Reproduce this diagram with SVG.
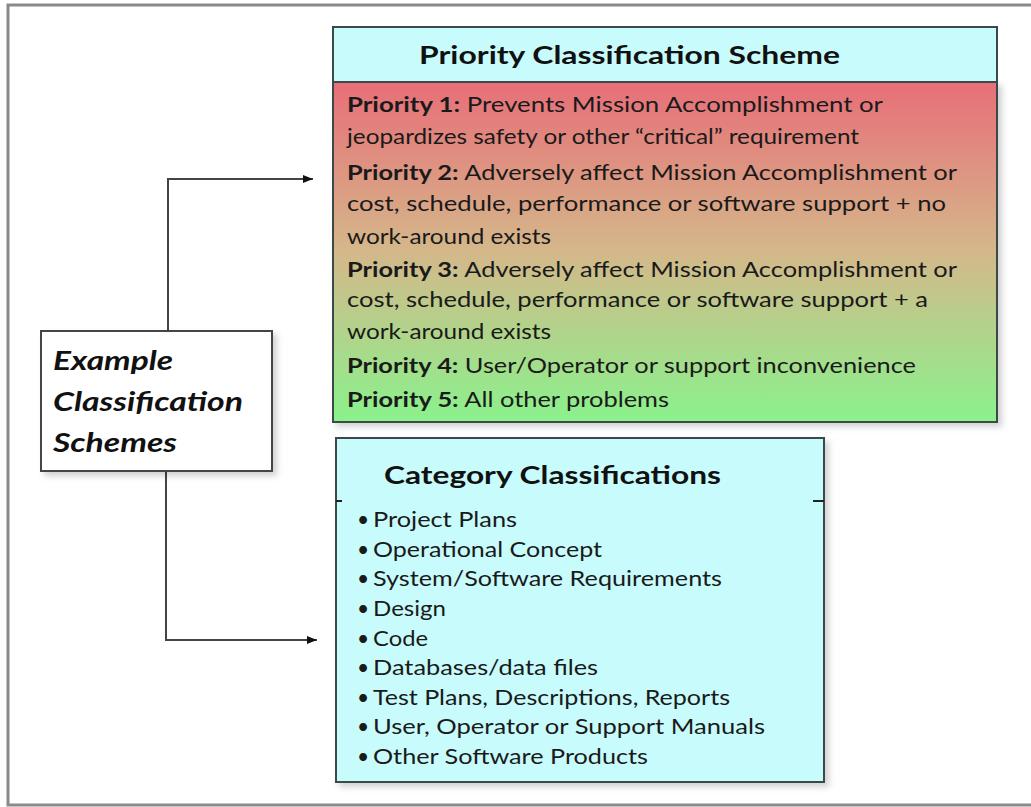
<svg xmlns="http://www.w3.org/2000/svg" width="1031" height="807" viewBox="0 0 1031 807">
<defs>
<style>
.frame{stroke:#8a8a8a;stroke-width:3;fill:none}
.box{stroke:#3a4a4a;stroke-width:2}
.title{font-family:Lato,"Liberation Sans",sans-serif;font-weight:bold;font-size:25px;fill:#111}
.txt{font-family:Lato,"Liberation Sans",sans-serif;font-size:21px;fill:#1a1a1a}
.b{font-weight:bold}
.ex{font-family:Lato,"Liberation Sans",sans-serif;font-weight:bold;font-style:italic;font-size:27px;fill:#111}
.conn{stroke:#444;stroke-width:2;fill:none}
</style>
<linearGradient id="prio" x1="0" y1="0" x2="0" y2="1">
<stop offset="0" stop-color="#e86e78"/>
<stop offset="0.5" stop-color="#d4b88a"/>
<stop offset="1" stop-color="#8af28c"/>
</linearGradient>
<filter id="sh" x="-10%" y="-10%" width="130%" height="130%">
<feDropShadow dx="4" dy="4" stdDeviation="3" flood-color="#000" flood-opacity="0.18"/>
</filter>
<marker id="arr" viewBox="0 0 10 10" refX="10" refY="5" markerWidth="10" markerHeight="10" markerUnits="userSpaceOnUse" orient="auto">
<path d="M0,1 L10,5 L0,9 Z" fill="#111"/>
</marker>
</defs>
<rect width="1031" height="807" fill="#fff"/>
<path class="frame" d="M1031,5 H8 V805 H1031"/>

<g id="connectors">
<path class="conn" d="M168,331 V179 H313" marker-end="url(#arr)"/>
<path class="conn" d="M166,471 V640 H317" marker-end="url(#arr)"/>
</g>

<g id="priority">
<rect x="333" y="82" width="664" height="340" fill="url(#prio)" class="box" filter="url(#sh)"/>
<rect x="333" y="27" width="664" height="55" fill="#c8fcfc" class="box"/>
<text class="title" x="419" y="64" textLength="421" lengthAdjust="spacingAndGlyphs">Priority Classification Scheme</text>
<text class="txt" x="347" y="112" textLength="536" lengthAdjust="spacingAndGlyphs"><tspan class="b">Priority 1:</tspan> Prevents Mission Accomplishment or</text>
<text class="txt" x="347" y="144" textLength="512" lengthAdjust="spacingAndGlyphs">jeopardizes safety or other “critical” requirement</text>
<text class="txt" x="347" y="180" textLength="610" lengthAdjust="spacingAndGlyphs"><tspan class="b">Priority 2:</tspan> Adversely affect Mission Accomplishment or</text>
<text class="txt" x="347" y="211" textLength="599" lengthAdjust="spacingAndGlyphs">cost, schedule, performance or software support + no</text>
<text class="txt" x="347" y="244" textLength="204" lengthAdjust="spacingAndGlyphs">work-around exists</text>
<text class="txt" x="347" y="277" textLength="610" lengthAdjust="spacingAndGlyphs"><tspan class="b">Priority 3:</tspan> Adversely affect Mission Accomplishment or</text>
<text class="txt" x="347" y="307" textLength="581" lengthAdjust="spacingAndGlyphs">cost, schedule, performance or software support + a</text>
<text class="txt" x="347" y="339" textLength="204" lengthAdjust="spacingAndGlyphs">work-around exists</text>
<text class="txt" x="347" y="373" textLength="569" lengthAdjust="spacingAndGlyphs"><tspan class="b">Priority 4:</tspan> User/Operator or support inconvenience</text>
<text class="txt" x="347" y="407" textLength="322" lengthAdjust="spacingAndGlyphs"><tspan class="b">Priority 5:</tspan> All other problems</text>
</g>

<g id="example">
<rect x="41" y="331" width="231" height="140" fill="#fff" stroke="#444" stroke-width="2" filter="url(#sh)"/>
<text class="ex" x="53" y="370" textLength="120" lengthAdjust="spacingAndGlyphs">Example</text>
<text class="ex" x="53" y="411" textLength="190" lengthAdjust="spacingAndGlyphs">Classification</text>
<text class="ex" x="53" y="452" textLength="124" lengthAdjust="spacingAndGlyphs">Schemes</text>
</g>

<g id="category">
<rect x="336" y="438" width="488" height="344" fill="#c8fcfc" class="box" filter="url(#sh)"/>
<path d="M336,501 H342 M813,501 H824" stroke="#222" stroke-width="2"/>
<text class="title" x="384" y="484" textLength="337" lengthAdjust="spacingAndGlyphs">Category Classifications</text>
<g class="txt">
<text x="357" y="527">•</text><text x="373" y="527" textLength="144" lengthAdjust="spacingAndGlyphs">Project Plans</text>
<text x="357" y="557">•</text><text x="373" y="557" textLength="229" lengthAdjust="spacingAndGlyphs">Operational Concept</text>
<text x="357" y="586">•</text><text x="373" y="586" textLength="349" lengthAdjust="spacingAndGlyphs">System/Software Requirements</text>
<text x="357" y="616">•</text><text x="373" y="616" textLength="73" lengthAdjust="spacingAndGlyphs">Design</text>
<text x="357" y="646">•</text><text x="373" y="646" textLength="55" lengthAdjust="spacingAndGlyphs">Code</text>
<text x="357" y="675">•</text><text x="373" y="675" textLength="225" lengthAdjust="spacingAndGlyphs">Databases/data files</text>
<text x="357" y="705">•</text><text x="373" y="705" textLength="357" lengthAdjust="spacingAndGlyphs">Test Plans, Descriptions, Reports</text>
<text x="357" y="734">•</text><text x="373" y="734" textLength="392" lengthAdjust="spacingAndGlyphs">User, Operator or Support Manuals</text>
<text x="357" y="764">•</text><text x="373" y="764" textLength="275" lengthAdjust="spacingAndGlyphs">Other Software Products</text>
</g>
</g>
</svg>
